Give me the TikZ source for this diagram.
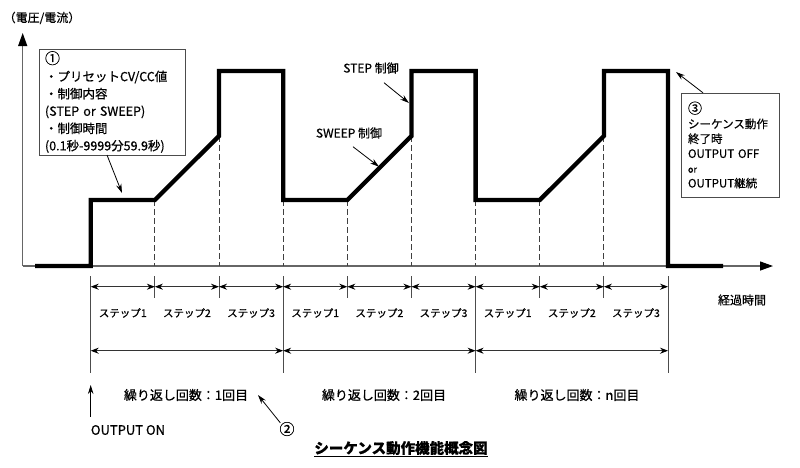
\documentclass[tikz,border=0pt]{standalone}
\usepackage{fontspec}
\setmainfont{Noto Sans CJK JP}[FakeBold=0.6]
\usetikzlibrary{arrows.meta}
\newcommand{\fsz}[2]{\fontsize{#1}{#2}\selectfont}

\begin{document}
\begin{tikzpicture}[x=1pt,y=-1pt,
  axis/.style={draw, black!60, line width=1.2pt, -{Triangle[length=13pt,width=9pt,color=black]}},
  wave/.style={draw, line width=4.3pt, line join=miter},
  guide/.style={draw, black!75, line width=1pt, dash pattern=on 5.5pt off 3.5pt},
  tick/.style={draw, black!70, line width=1pt},
  dim/.style={draw, black!80, line width=0.9pt,
    {Stealth[length=8pt,width=6pt,color=black]}-{Stealth[length=8pt,width=6pt,color=black]}},
  callout/.style={draw, line width=0.8pt, -{Stealth[length=9pt,width=5.5pt]}},
  lbl/.style={inner sep=0pt},
]
  \useasboundingbox (0,0) rectangle (800,467);
  \coordinate (origin) at (22.7,266);
  \coordinate (lo) at (0,200);
  \coordinate (mid) at (0,136);
  \coordinate (hi) at (0,71);
  \coordinate (tt) at (0,276);
  \coordinate (tb) at (0,298);
  \coordinate (tl) at (0,373);
  \foreach \i in {0,...,9} {
    \coordinate (t\i) at ({90.7+64.15*\i},266);
    \coordinate (s\i) at ({90.7+64.15*\i},286.7);
    \coordinate (c\i) at ({90.7+64.15*\i},350.7);
  }

  % axes
  \path[axis] (origin) -- (22.7,33);
  \path[axis] (origin) -- (773,266);

  % dashed guides
  \foreach \i/\lv in {1/lo,2/mid,3/lo,4/lo,5/mid,6/lo,7/lo,8/mid}
    \path[guide] (t\i |- \lv) -- (t\i);

  % sequence output
  \path[wave] (35,266) -- (t0) -- (t0 |- lo) -- (t1 |- lo) -- (t2 |- mid) -- (t2 |- hi)
    -- (t3 |- hi) -- (t3 |- lo) -- (t4 |- lo) -- (t5 |- mid) -- (t5 |- hi)
    -- (t6 |- hi) -- (t6 |- lo) -- (t7 |- lo) -- (t8 |- mid) -- (t8 |- hi)
    -- (t9 |- hi) -- (t9) -- (723,266);

  % ticks and spans
  \foreach \i in {1,2,4,5,7,8}
    \path[tick] (t\i |- tt) -- (t\i |- tb);
  \foreach \i in {0,3,6,9}
    \path[tick] (t\i |- tt) -- (t\i |- tl);
  \foreach \i [count=\j] in {0,...,8}
    \path[dim] (s\i) -- (s\j);
  \foreach \i/\n [count=\j] in {0/1,1/2,2/3,3/1,4/2,5/3,6/1,7/2,8/3}
    \node[lbl, font=\fsz{10.5}{12}] (step\j) at ({90.7+64.15*(\i+0.5)},313) {ステップ\n};
  \path[dim] (c0) -- (c3);
  \path[dim] (c3) -- (c6);
  \path[dim] (c6) -- (c9);
  \node[lbl, font=\fsz{13}{15}] (rep1) at (186,395) {繰り返し回数：1回目};
  \node[lbl, font=\fsz{13}{15}] (rep2) at (384,395) {繰り返し回数：2回目};
  \node[lbl, font=\fsz{13}{15}] (repn) at (577,395) {繰り返し回数：n回目};

  % labels
  \node[lbl, font=\fsz{12}{14}] (yaxis) at (42,18) {（電圧/電流）};
  \node[lbl, font=\fsz{12}{14}] (xaxis) at (742,300) {経過時間};
  \node[lbl, font=\fsz{13}{15}, anchor=west] (onl) at (90.7,430) {OUTPUT ON};
  \coordinate (ontip) at (90.7,385);
  \path[callout] ([yshift=8pt]onl.north west) -- (ontip);
  \node[lbl, font=\fsz{15}{15}] (num2) at (287,429) {②};
  \coordinate (reptip) at (258,395);
  \path[callout] ([xshift=1pt,yshift=-1pt]num2.north west) -- (reptip);
  \node[lbl, font=\bfseries\fsz{14.5}{16}] (title) at (401,449) {\underline{シーケンス動作機能概念図}};

  \node[lbl, font=\fsz{12}{14}] (stepl) at (371,68) {STEP 制御};
  \coordinate (steptip) at (409,103);
  \path[callout] ([xshift=13pt,yshift=-9pt]stepl.south) -- (steptip);
  \node[lbl, font=\fsz{12}{14}] (sweepl) at (349,133) {SWEEP 制御};
  \coordinate (sweeptip) at (379,166.7);
  \path[callout] ([xshift=4pt,yshift=-8pt]sweepl.south) -- (sweeptip);

  % note boxes
  \node[rectangle, draw, black!70, text=black,
      minimum width=146pt, minimum height=104pt, text width=134pt,
      inner xsep=6pt, inner ysep=2pt, align=left, font=\fsz{12.5}{17.3},
  ] (preset) at (112,102) {{\fsz{15}{17.3}①}\\・プリセットCV/CC値\\・制御内容\\(STEP or SWEEP)\\・制御時間\\(0.1秒-9999分59.9秒)};
  \coordinate (presettip) at (122,193);
  \path[callout] ([xshift=-5pt]preset.south) -- (presettip);

  \node[rectangle, draw, black!70, text=black,
      minimum width=98pt, minimum height=104pt, text width=84pt,
      inner xsep=7pt, inner ysep=2pt, align=left, font=\fsz{11.5}{14.8},
  ] (finish) at (730,145) {{\fsz{14}{14.8}③}\\シーケンス動作\\終了時\\OUTPUT OFF\\{\fsz{9}{14.8}or}\\OUTPUT継続};
  \coordinate (finishtip) at (676,72);
  \path[callout] ([xshift=-27pt]finish.north) -- (finishtip);
\end{tikzpicture}
\end{document}
